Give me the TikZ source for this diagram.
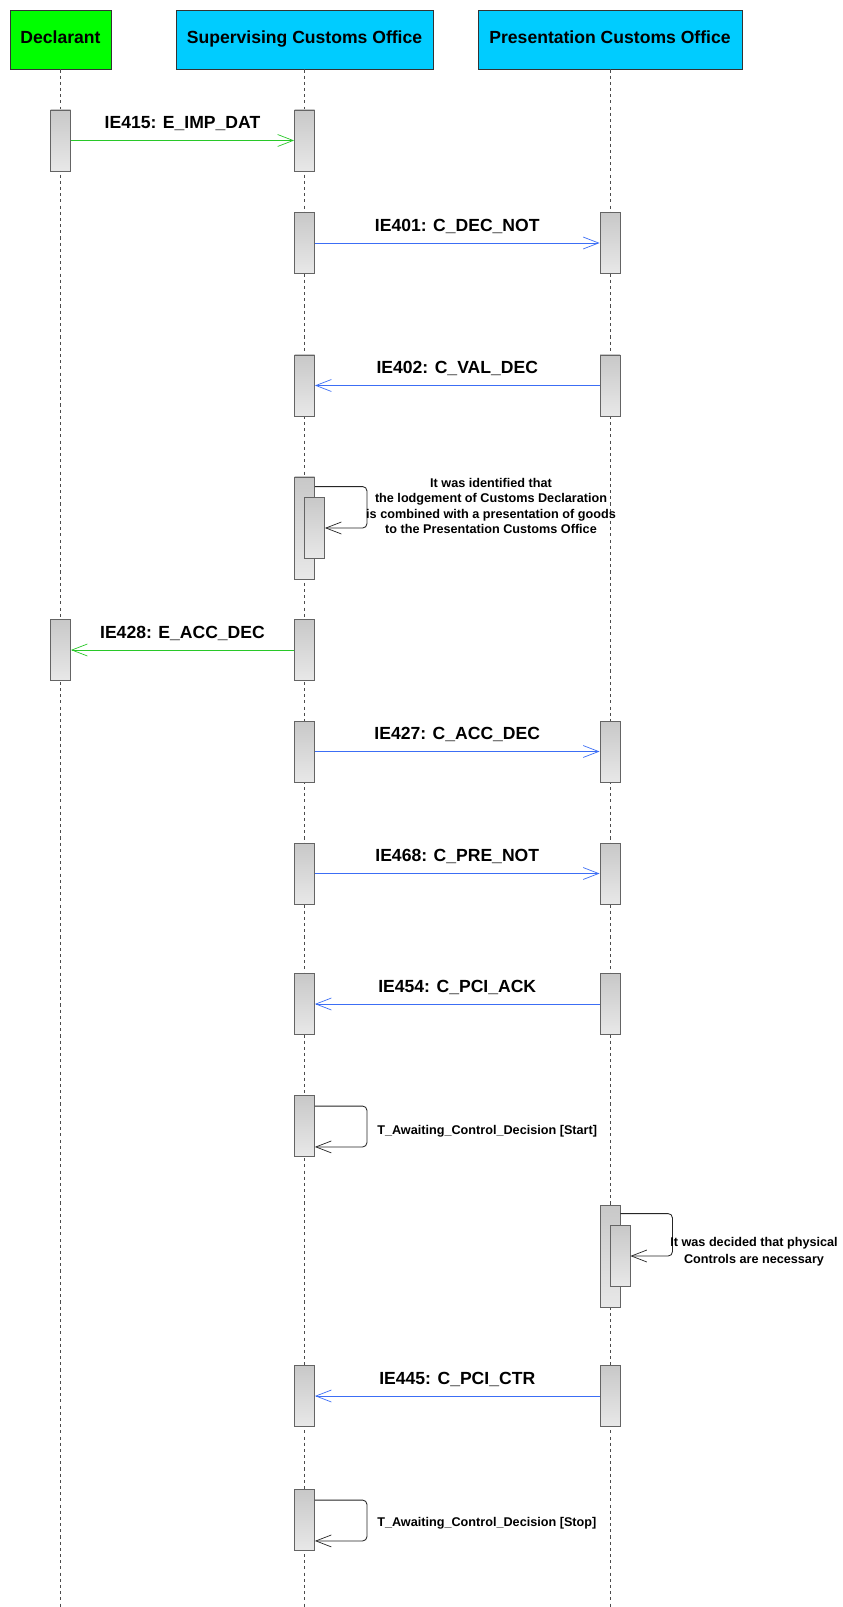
\documentclass[tikz,border=0pt]{standalone}
\usepackage{fontspec}
\setmainfont{Liberation Sans}
\usepackage{xcolor}
\usetikzlibrary{arrows.meta,calc}

\definecolor{declgreen}{RGB}{0,255,0}
\definecolor{officecyan}{RGB}{0,204,255}
\definecolor{msggreen}{RGB}{40,200,40}
\definecolor{msgblue}{RGB}{60,110,245}
\definecolor{bartop}{RGB}{200,200,200}
\definecolor{barbot}{RGB}{232,232,232}
\definecolor{barline}{RGB}{100,100,100}

\begin{document}
\begin{tikzpicture}[
  x=0.25mm, y=-0.25mm,
  font=\bfseries\fontsize{12.5}{15}\selectfont,
  actor/.style={draw=black!80, line width=0.6pt, minimum height=14.75mm, inner sep=0pt, text height=0.72em, text depth=0.21em},
  lifeline/.style={draw=gray!60!black, dash pattern=on 2.2pt off 2.2pt, line width=0.45pt},
  bar/.style={draw=barline, line width=0.6pt, top color=bartop, bottom color=barbot, minimum width=5mm, minimum height=15.25mm, inner sep=0pt},
  longbar/.style={bar, minimum height=25.5mm},
  tip/.style={-{Straight Barb[length=11pt, width=8.5pt, line width=0.5pt]}},
  greenmsg/.style={tip, draw=msggreen, line width=0.6pt},
  bluemsg/.style={tip, draw=msgblue, line width=0.6pt},
  selfmsg/.style={tip, draw=black!85, line width=0.6pt, rounded corners=3pt},
  lbl/.style={midway, anchor=base, yshift=8.3pt, inner sep=0pt},
  note/.style={font=\bfseries\fontsize{9}{11}\selectfont, align=center, inner sep=0pt}
]

\path[fill=white, use as bounding box] (0,0) rectangle (842,1607);

% ---------- Participants ----------
\node[actor, fill=declgreen, minimum width=25.25mm] (decl) at (60.5,39.5) {Declarant};
\node[actor, fill=officecyan, minimum width=64.25mm] (sco) at (304.5,39.5) {Supervising Customs Office};
\node[actor, fill=officecyan, minimum width=66mm] (pco) at (610,39.5) {Presentation Customs Office};

% ---------- Lifelines ----------
\coordinate (declend) at (decl |- 0,1607);
\coordinate (scoend) at (sco |- 0,1607);
\coordinate (pcoend) at (pco |- 0,1607);
\draw[lifeline] (decl.south) -- (declend);
\draw[lifeline] (sco.south) -- (scoend);
\draw[lifeline] (pco.south) -- (pcoend);

% ---------- Activation bars ----------
\node[bar] (d1) at (decl |- 0,140.5) {};
\node[bar] (s1) at (sco |- 0,140.5) {};
\node[bar] (s2) at (sco |- 0,243) {};
\node[bar] (p2) at (pco |- 0,243) {};
\node[bar] (s3) at (sco |- 0,385.5) {};
\node[bar] (p3) at (pco |- 0,385.5) {};
\node[longbar] (s4) at (sco |- 0,528) {};
\node[bar] (s4i) at ($(s4)+(10,0)$) {};
\node[bar] (d5) at (decl |- 0,650) {};
\node[bar] (s5) at (sco |- 0,650) {};
\node[bar] (s6) at (sco |- 0,751.5) {};
\node[bar] (p6) at (pco |- 0,751.5) {};
\node[bar] (s7) at (sco |- 0,873.5) {};
\node[bar] (p7) at (pco |- 0,873.5) {};
\node[bar] (s8) at (sco |- 0,1004) {};
\node[bar] (p8) at (pco |- 0,1004) {};
\node[bar] (s9) at (sco |- 0,1126) {};
\node[longbar] (p10) at (pco |- 0,1256) {};
\node[bar] (p10i) at ($(p10)+(10,0)$) {};
\node[bar] (s11) at (sco |- 0,1396) {};
\node[bar] (p11) at (pco |- 0,1396) {};
\node[bar] (s12) at (sco |- 0,1520) {};

% ---------- Messages ----------
\draw[greenmsg] (d1) -- node[lbl] {IE415: E\_IMP\_DAT} (s1);
\draw[bluemsg] (s2) -- node[lbl] {IE401: C\_DEC\_NOT} (p2);
\draw[bluemsg] (p3) -- node[lbl] {IE402: C\_VAL\_DEC} (s3);
\draw[greenmsg] (s5) -- node[lbl] {IE428: E\_ACC\_DEC} (d5);
\draw[bluemsg] (s6) -- node[lbl] {IE427: C\_ACC\_DEC} (p6);
\draw[bluemsg] (s7) -- node[lbl] {IE468: C\_PRE\_NOT} (p7);
\draw[bluemsg] (p8) -- node[lbl] {IE454: C\_PCI\_ACK} (s8);
\draw[bluemsg] (p11) -- node[lbl] {IE445: C\_PCI\_CTR} (s11);

% ---------- Self messages ----------
\draw[selfmsg] ($(s4.north east)+(0,10)$) -- ++(52,0) |- (s4i.east);
\node[note] (n4) at (491,506) {It was identified that\\the lodgement of Customs Declaration\\is combined with a presentation of goods\\to the Presentation Customs Office};

\draw[selfmsg] ($(s9.north east)+(0,11)$) -- ++(52,0) |- ($(s9.south east)+(0,-10)$);
\node[note, anchor=west] (n9) at (377,1131) {T\_Awaiting\_Control\_Decision [Start]};

\draw[selfmsg] ($(p10.north east)+(0,9)$) -- ++(52,0) |- (p10i.east);
\node[note, font=\bfseries\fontsize{9}{12.3}\selectfont] (n10) at (754,1252) {It was decided that physical\\Controls are necessary};

\draw[selfmsg] ($(s12.north east)+(0,11)$) -- ++(52,0) |- ($(s12.south east)+(0,-10)$);
\node[note, anchor=west] (n12) at (377,1523) {T\_Awaiting\_Control\_Decision [Stop]};

\end{tikzpicture}
\end{document}
